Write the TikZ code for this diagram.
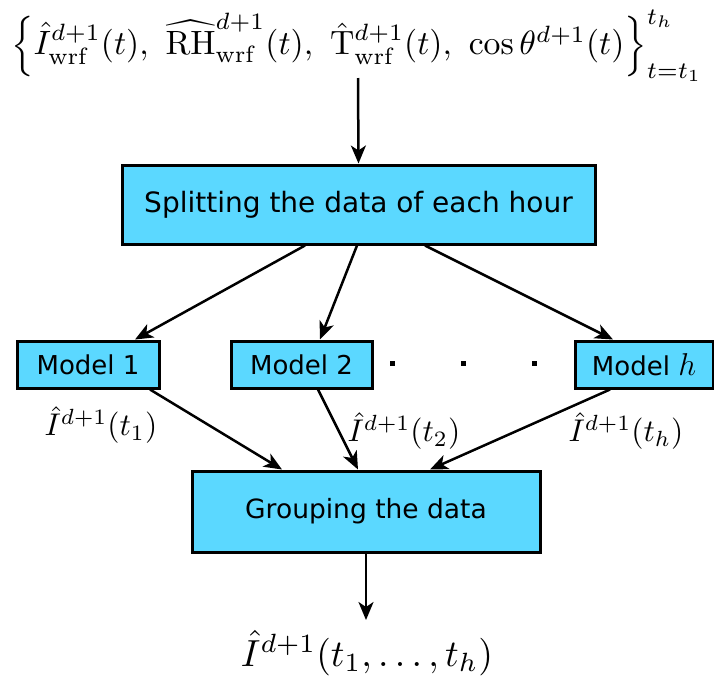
\documentclass[tikz,border=0pt]{standalone}
\usepackage{amsmath}
\usepackage{fontspec}
\newfontfamily\boxfont{DejaVu Sans}
\usetikzlibrary{arrows.meta}
\definecolor{boxblue}{RGB}{91,216,255}
\tikzset{
  procbox/.style={draw=black, line width=3pt, fill=boxblue, inner sep=0pt,
    font=\boxfont\fontsize{26}{30}\selectfont},
  flow/.style={line width=2.5pt, -{Stealth[length=18pt, width=15pt, inset=5pt]}},
  mathlbl/.style={inner sep=0pt, scale=3.14},
  dotmark/.style={fill=black, inner sep=0pt, minimum size=5pt}
}
\begin{document}
\begin{tikzpicture}[x=1pt, y=-1pt]
  \useasboundingbox (0,0) rectangle (714,678);
  % input data set
  \node[inner sep=0pt, scale=3.37] (in) at (357,45.5)
    {$\Big\{\hat{I}^{d+1}_{\mathrm{wrf}}(t),\ \widehat{\mathrm{RH}}^{d+1}_{\mathrm{wrf}}(t),\ \hat{\mathrm{T}}^{d+1}_{\mathrm{wrf}}(t),\ \cos\theta^{d+1}(t)\Big\}_{t=t_1}^{t_h}$};
  % processing boxes
  \node[procbox, font=\boxfont\fontsize{28}{32}\selectfont, minimum width=473pt, minimum height=79pt] (split) at (358.5,204.5) {Splitting the data of each hour};
  \node[procbox, minimum width=142pt, minimum height=47pt] (m1) at (88,364.5) {Model 1};
  \node[procbox, minimum width=141pt, minimum height=47pt] (m2) at (301.5,364.5) {Model 2};
  \node[procbox, minimum width=138pt, minimum height=47pt] (mh) at (644,364.5) {Model \scalebox{1.27}{$h$}};
  \node[procbox, font=\boxfont\fontsize{26.5}{30}\selectfont, minimum width=348pt, minimum height=81pt] (grp) at (366,511.5) {Grouping the data};
  % ellipsis between models
  \node[dotmark] (d1) at (392,363) {};
  \node[dotmark] (d2) at (463,363) {};
  \node[dotmark] (d3) at (534,363) {};
  % output
  \node[inner sep=0pt, scale=3.77] (out) at (367,653) {$\hat{I}^{d+1}(t_1,\ldots,t_h)$};
  % model outputs
  \node[mathlbl] (o1) at (101,425) {$\hat{I}^{d+1}(t_1)$};
  \node[mathlbl] (o2) at (404,431) {$\hat{I}^{d+1}(t_2)$};
  \node[mathlbl] (oh) at (626,431) {$\hat{I}^{d+1}(t_h)$};
  % connectors
  \coordinate (inb) at (358,78);
  \draw[flow] (inb) -- (split.north);
  \draw[flow] (split.south -| 305,0) -- (m1.north -| 135,0);
  \draw[flow] (split.south -| 357,0) -- (m2.north -| 320,0);
  \draw[flow] (split.south -| 425,0) -- (mh.north -| 613,0);
  \draw[flow] (m1.south -| 150,0) -- (grp.north -| 282,0);
  \draw[flow] (m2.south -| 318,0) -- (grp.north -| 358,0);
  \draw[flow] (mh.south -| 610,0) -- (grp.north -| 430,0);
  \coordinate (outt) at (366,620);
  \draw[flow] (grp.south -| 366,0) -- (outt);
\end{tikzpicture}
\end{document}
